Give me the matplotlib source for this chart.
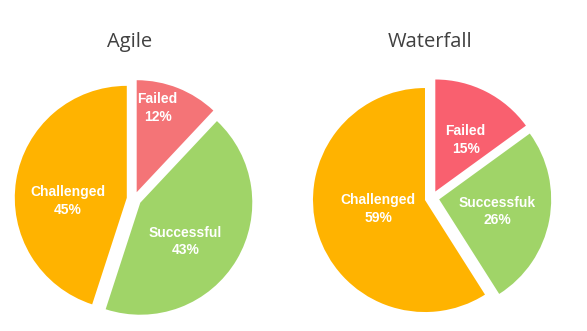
import matplotlib
matplotlib.use("Agg")
import matplotlib.pyplot as plt

# Project outcome shares (percent)
categories = ["Failed", "Successful", "Challenged"]
agile_values = [12, 43, 45]
waterfall_values = [15, 26, 59]
agile_labels = ["Failed", "Successful", "Challenged"]
waterfall_labels = ["Failed", "Successfuk", "Challenged"]
titles = ["Agile", "Waterfall"]

W, H = 587, 331
fig = plt.figure(figsize=(W / 100, H / 100), dpi=100)
ax = fig.add_axes([0, 0, 1, 1])

orange = "#FFB300"
green = "#A0D468"
colors_agile = ["#F47477", green, orange]
colors_waterfall = ["#F9606F", green, orange]

radius = 112
# explode distance is in data units (pixels here)
gap = 7.3
explode = [gap, gap, gap]

# pie centres and title positions (pixels, from top-left)
charts = [
    dict(values=agile_values, labels=agile_labels, colors=colors_agile,
         center=(134, 199), title_xy=(130, 42),
         # label offsets relative to centre, in radius units (x right, y down)
         label_off=[(0.21, -0.81), (0.46, 0.38), (-0.59, 0.02)]),
    dict(values=waterfall_values, labels=waterfall_labels, colors=colors_waterfall,
         center=(432, 198), title_xy=(430, 42),
         label_off=[(0.30, -0.52), (0.58, 0.12), (-0.48, 0.10)]),
]

for title, ch in zip(titles, charts):
    cx, cy = ch["center"]
    ax.pie(ch["values"], colors=ch["colors"], startangle=90, counterclock=False,
           explode=explode, radius=radius, center=(cx, H - cy),
           wedgeprops=dict(linewidth=0), frame=True)
    for name, val, (ox, oy) in zip(ch["labels"], ch["values"], ch["label_off"]):
        ax.text(cx + ox * radius, H - (cy + oy * radius), f"{name}\n{val}%",
                ha="center", va="center", color="white", fontsize=10,
                fontweight="bold", family="Liberation Sans", linespacing=1.35)
    tx, ty = ch["title_xy"]
    ax.text(tx, H - ty, title, ha="center", va="center", fontsize=14.5,
            color="#404040", family="Open Sans")

ax.set_xlim(0, W)
ax.set_ylim(0, H)
ax.set_aspect("equal")
ax.axis("off")
fig.savefig("out.png", dpi=100, facecolor="white")
